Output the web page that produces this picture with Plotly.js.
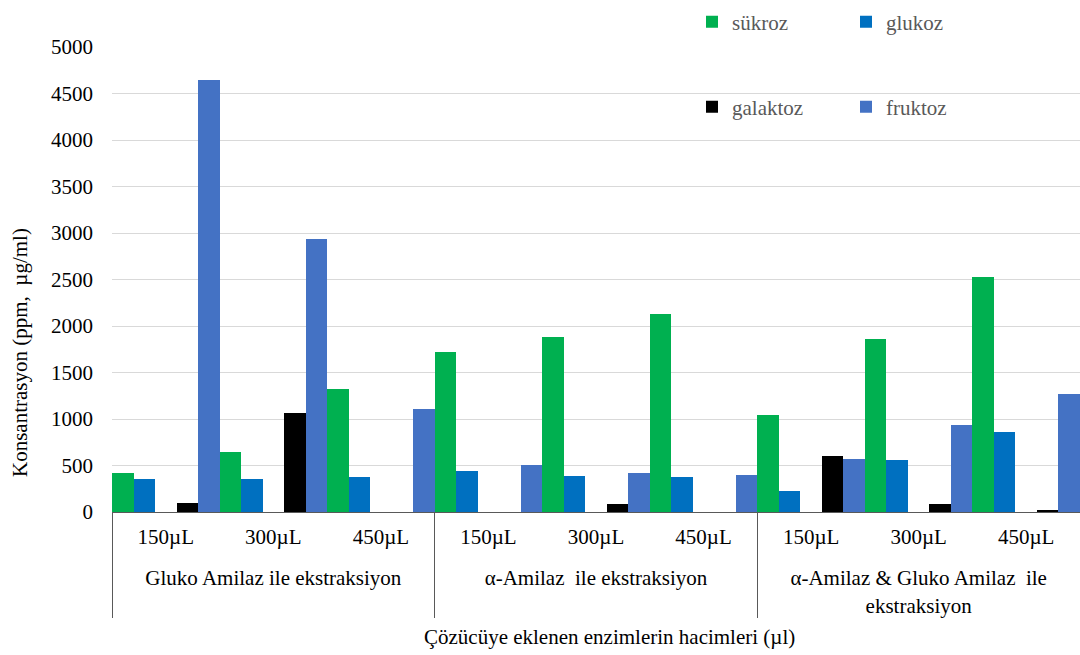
<!DOCTYPE html>
<html>
<head>
<meta charset="utf-8">
<script src="https://cdn.plot.ly/plotly-3.0.1.min.js"></script>
<style>
  html, body { margin: 0; padding: 0; background: #ffffff; }
  #chart { width: 1080px; height: 655px; }
</style>
</head>
<body>
<div id="chart"></div>
<script>
// Extraction method (outer category) and enzyme volume (inner category)
const groups = [
  "Gluko Amilaz ile ekstraksiyon", "Gluko Amilaz ile ekstraksiyon", "Gluko Amilaz ile ekstraksiyon",
  "α-Amilaz  ile ekstraksiyon", "α-Amilaz  ile ekstraksiyon", "α-Amilaz  ile ekstraksiyon",
  "α-Amilaz & Gluko Amilaz  ile<br>ekstraksiyon", "α-Amilaz & Gluko Amilaz  ile<br>ekstraksiyon", "α-Amilaz & Gluko Amilaz  ile<br>ekstraksiyon"
];
const volumes = ["150µL", "300µL", "450µL", "150µL", "300µL", "450µL", "150µL", "300µL", "450µL"];

// Sugar concentrations (ppm, µg/ml)
const sukroz   = [420, 650, 1325, 1720, 1885, 2130, 1040, 1860, 2525];
const glukoz   = [350, 355, 380, 440, 385, 380, 230, 560, 865];
const galaktoz = [95, 1060, 0, 0, 85, 0, 605, 85, 25];
const fruktoz  = [4640, 2935, 1105, 510, 415, 395, 575, 935, 1265];

const serif = "Liberation Serif, Times New Roman, serif";
const FS = 21;

// Inner labels are padded with tall blank struts on both sides so the
// outer (method) row sits further below them
const strut = "<span style='font-size:40px'>\u00a0</span>";
const volumeLabels = volumes.map(v => strut + v + strut);
const x = [groups, volumeLabels];

// plot area in pixels
const W = 1080, H = 655, L = 112, R = 0, T = 47, B = 143;
const pw = W - L - R, ph = H - T - B;
const px2paperX = px => (px - L) / pw;
const px2paperY = py => 1 - (py - T) / ph;

function series(name, y, color, offset, legend) {
  return {
    type: "bar", name: name, x: x, y: y,
    width: 0.2, offset: offset,
    marker: { color: color, line: { width: 0 } },
    legend: legend,
    hoverinfo: "y+name"
  };
}

const data = [
  series("sükroz", sukroz, "#00B050", -0.5, "legend"),
  series("glukoz", glukoz, "#0070C0", -0.3, "legend"),
  series("galaktoz", galaktoz, "#000000", 0.1, "legend2"),
  series("fruktoz", fruktoz, "#4472C4", 0.3, "legend2")
];

const legendStyle = {
  orientation: "h", xref: "container", yref: "container",
  xanchor: "left", yanchor: "middle",
  font: { family: serif, size: FS, color: "#595959" },
  bgcolor: "rgba(0,0,0,0)", borderwidth: 0,
  entrywidth: 109, traceorder: "normal"
};

const layout = {
  width: W, height: H,
  margin: { l: L, r: R, t: T, b: B, autoexpand: false },
  paper_bgcolor: "#ffffff", plot_bgcolor: "#ffffff",
  font: { family: serif, size: FS, color: "#000000" },
  barmode: "group", bargap: 0, bargroupgap: 0,
  showlegend: true,
  legend: Object.assign({}, legendStyle, { x: 692 / W, y: 1 - 22 / H }),
  legend2: Object.assign({}, legendStyle, { x: 692 / W, y: 1 - 107 / H }),
  xaxis: {
    type: "multicategory",
    range: [-0.5, 8.5],
    showgrid: false, zeroline: false,
    showline: true, linecolor: "#595959", linewidth: 1,
    ticks: "",
    ticklabelstandoff: 6,
    showdividers: true, dividercolor: "#595959", dividerwidth: 1,
    tickfont: { family: serif, size: FS, color: "#000000" },
    automargin: false
  },
  yaxis: {
    range: [0, 5000], dtick: 500, tick0: 0,
    showgrid: true, gridcolor: "#D9D9D9", gridwidth: 1,
    zeroline: false, showline: false, ticks: "",
    ticklabelstandoff: 18,
    tickfont: { family: serif, size: FS, color: "#000000" },
    automargin: false
  },
  annotations: [
    {
      text: "Konsantrasyon (ppm,  µg/ml)", textangle: -90,
      xref: "paper", yref: "paper", x: px2paperX(20), y: px2paperY(353),
      xanchor: "center", yanchor: "middle", showarrow: false,
      font: { family: serif, size: FS, color: "#000000" }
    },
    {
      text: "Çözücüye eklenen enzimlerin hacimleri (µl)",
      xref: "paper", yref: "paper", x: px2paperX(609), y: px2paperY(637),
      xanchor: "center", yanchor: "middle", showarrow: false,
      font: { family: serif, size: FS, color: "#000000" }
    }
  ]
};

Plotly.newPlot("chart", data, layout, { displayModeBar: false, staticPlot: true });
</script>
</body>
</html>
